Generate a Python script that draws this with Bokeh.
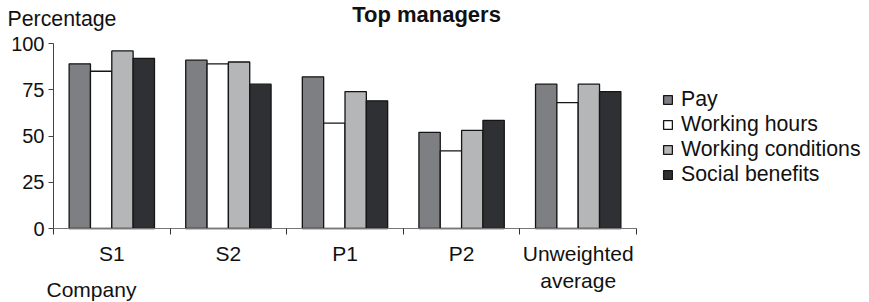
from bokeh.plotting import figure
from bokeh.models import (ColumnDataSource, Range1d, FixedTicker, Legend, LegendItem, Label)
from bokeh.transform import dodge
from bokeh.embed import file_html
from bokeh.resources import INLINE

# ---- data ----
companies = ["S1", "S2", "P1", "P2", "Unweighted\naverage"]
pay = [89, 91, 82, 52, 78]
working_hours = [85, 89, 57, 42, 68]
working_conditions = [96, 90, 74, 53, 78]
social_benefits = [92, 78, 69, 58.5, 74]
series_names = ["Pay", "Working hours", "Working conditions", "Social benefits"]
series_colors = ["#7e7f83", "#ffffff", "#b4b6b8", "#2f3033"]
y_ticks = [0, 25, 50, 75, 100]

FONT = "Liberation Sans"
W, H = 869, 302
# pixel box (canvas coords) of the plotting area proper
PX_L, PX_R, PX_T, PX_B = 53, 636, 43, 228
n = len(companies)
ux = (PX_R - PX_L) / n          # px per category
uy = (PX_B - PX_T) / 100.0      # px per percent
x_range = Range1d(-PX_L / ux, (W - PX_L) / ux)
y_range = Range1d(-(H - PX_B) / uy, 100 + PX_T / uy)

idx = list(range(n))
centers = [i + 0.5 for i in idx]
source = ColumnDataSource(dict(
    x=centers, pay=pay, hours=working_hours, cond=working_conditions, soc=social_benefits,
))

p = figure(width=W, height=H, output_backend="svg", toolbar_location=None,
           x_range=x_range, y_range=y_range, min_border=0)
p.outline_line_color = None
p.xgrid.visible = False
p.ygrid.visible = False
p.background_fill_color = "white"
p.border_fill_color = "white"

bw = 0.183
offsets = [-1.5 * bw, -0.5 * bw, 0.5 * bw, 1.5 * bw]
cols = ["pay", "hours", "cond", "soc"]
renderers = []
for col, off, color in zip(cols, offsets, series_colors):
    r = p.vbar(x=dodge("x", off, range=p.x_range), top=col, width=bw, bottom=0,
               source=source, fill_color=color, line_color="#151515", line_width=1.3)
    renderers.append(r)

# x axis: labels at category centres, ticks at category boundaries
xa = p.xaxis[0]
xa.fixed_location = 0
xa.bounds = (0, n)
xa.ticker = FixedTicker(ticks=centers, minor_ticks=list(range(n + 1)))
xa.major_label_overrides = {c: name for c, name in zip(centers, companies)}
xa.major_tick_out = 0
xa.major_tick_in = 0
xa.minor_tick_out = 6
xa.minor_tick_in = 0
xa.minor_tick_line_color = "#333333"
xa.axis_line_color = "#777777"
xa.major_label_standoff = 7
xa.major_label_text_font = FONT
xa.major_label_text_font_size = "21px"
xa.major_label_text_color = "#111111"

ya = p.yaxis[0]
ya.fixed_location = 0
ya.bounds = (0, 100)
ya.ticker = FixedTicker(ticks=y_ticks)
ya.major_tick_out = 5
ya.major_tick_in = 0
ya.minor_tick_out = 0
ya.minor_tick_in = 0
ya.major_tick_line_color = "#444444"
ya.axis_line_color = "#444444"
ya.major_label_standoff = 4
ya.major_label_text_font = FONT
ya.major_label_text_font_size = "20px"
ya.major_label_text_color = "#111111"

# texts (screen units from bottom-left of canvas); SHIFT compensates baseline placement
SHIFT = 6.5
p.add_layout(Label(x=7, y=H - 24.5 + SHIFT, x_units="screen", y_units="screen", text="Percentage",
                   text_font=FONT, text_font_size="21.3px", text_color="#111111",
                   text_baseline="alphabetic", text_align="left"))
p.add_layout(Label(x=426, y=H - 20 + SHIFT, x_units="screen", y_units="screen", text="Top managers",
                   text_font=FONT, text_font_size="22px", text_font_style="bold", text_color="#111111",
                   text_baseline="alphabetic", text_align="center"))
p.add_layout(Label(x=46, y=H - 295.7 + SHIFT, x_units="screen", y_units="screen", text="Company",
                   text_font=FONT, text_font_size="21px", text_color="#111111",
                   text_baseline="alphabetic", text_align="left"))

legend = Legend(items=[LegendItem(label=nm, renderers=[r]) for nm, r in zip(series_names, renderers)],
                location=(662, H - 187), orientation="vertical")
legend.margin = 0
legend.padding = 0
legend.spacing = 0
legend.border_line_color = None
legend.background_fill_alpha = 0
legend.glyph_width = 11
legend.glyph_height = 11
legend.label_standoff = 8
legend.label_text_font = FONT
legend.label_text_font_size = "21.3px"
legend.label_text_color = "#111111"
legend.label_height = 24
p.add_layout(legend)

open("out.html", "w").write(file_html(p, INLINE))
